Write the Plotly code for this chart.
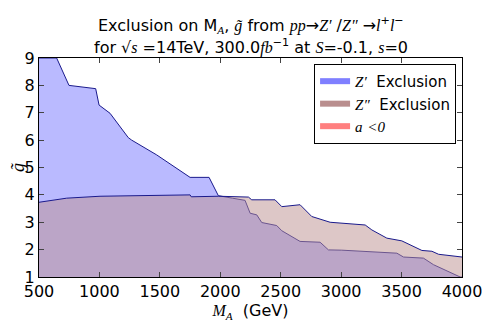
import plotly.graph_objects as go

# Z' exclusion boundary (upper edge of excluded region)
zp_mass = [500, 646, 748, 969, 997, 1088, 1239, 1267, 1474, 1750, 1907, 1984, 2100, 2205,
           2247, 2302, 2343, 2467, 2509, 2660, 2826, 2895, 3005, 3267, 3461, 3516, 3681,
           3764, 3985, 4000]
zp_g = [9.0, 9.0, 8.0, 7.88, 7.28, 6.98, 6.09, 6.0, 5.46, 4.64, 4.64, 3.97, 3.88, 3.8,
        3.33, 3.27, 2.99, 2.88, 2.69, 2.30, 2.27, 1.99, 1.98, 1.91, 1.87, 1.73, 1.69,
        1.45, 1.0, 1.0]

# Z'' exclusion boundary
zpp_mass = [500, 729, 1005, 1750, 1760, 1984, 2233, 2260, 2453, 2509, 2660, 2757, 2909,
            3199, 3254, 3378, 3502, 3668, 3751, 3806, 4000]
zpp_g = [3.73, 3.88, 3.95, 4.0, 3.93, 3.95, 3.92, 3.82, 3.82, 3.57, 3.64, 3.21, 3.0,
         2.90, 2.72, 2.42, 2.32, 1.97, 1.94, 1.83, 1.73]

FONT = "DejaVu Sans"
EDGE = "#1a1a8c"


def m(t):
    # math-style text: italic serif
    return "<span style='font-family:Liberation Serif'><i>" + t + "</i></span>"


fig = go.Figure()
fig.add_trace(go.Scatter(
    x=zp_mass, y=zp_g, fill="tozeroy", mode="lines",
    line=dict(color=EDGE, width=1), fillcolor="rgba(0,0,255,0.27)",
    showlegend=False, hoverinfo="skip"))
fig.add_trace(go.Scatter(
    x=zpp_mass, y=zpp_g, fill="tozeroy", mode="lines",
    line=dict(color=EDGE, width=1), fillcolor="rgba(188,143,143,0.5)",
    showlegend=False, hoverinfo="skip"))

# legend patches
for name, col in [(m("Z′") + "  Exclusion", "rgba(0,0,255,0.5)"),
                  (m("Z″") + "  Exclusion", "rgb(185,142,142)"),
                  (m("a") + " " + m("<0"), "rgba(255,0,0,0.5)")]:
    fig.add_trace(go.Scatter(
        x=[None], y=[None], fill="toself", mode="none", fillcolor=col, name=name))

axis = dict(showline=True, linecolor="black", linewidth=1, mirror="ticks",
            ticks="inside", ticklen=5, tickcolor="#444", showgrid=False, zeroline=False,
            automargin=False, tickfont=dict(family=FONT, size=16, color="black"))

title_lines = [
    "Exclusion on M<sub>" + m("A") + "</sub>, " + m("g̃") + " from " + m("pp") + "→" + m("Z′")
    + " /" + m("Z″") + " →" + m("l") + "<sup>+</sup>" + m("l") + "<sup>−</sup>",
    "for √" + m("s") + " =14TeV, 300.0" + m("fb") + "<sup>−1</sup> at " + m("S") + "=-0.1, "
    + m("s") + "=0",
]

fig.update_layout(
    width=483, height=319,
    margin=dict(l=31, r=29, t=50, b=50),
    plot_bgcolor="white", paper_bgcolor="white",
    font=dict(family=FONT, color="black"),
    xaxis=dict(range=[500, 4000], dtick=500, title=dict(
        text=m("M<sub>A</sub>") + "  (GeV)", font=dict(family=FONT, size=16), standoff=2), **axis),
    yaxis=dict(range=[1, 9], dtick=1, title=dict(
        text=m("g̃"), font=dict(family=FONT, size=18), standoff=8), **axis),
    legend=dict(x=0.986, xanchor="right", y=0.973, yanchor="top",
                bordercolor="black", borderwidth=1, bgcolor="white",
                font=dict(family=FONT, size=15), tracegroupgap=2),
)
for i, line in enumerate(title_lines):
    fig.add_annotation(text=line, xref="paper", yref="paper", x=0.5, y=1 + (33 - 21 * i) / 219,
                       xanchor="center", yanchor="middle", showarrow=False,
                       font=dict(family=FONT, size=16))

fig.write_html("out.html")
